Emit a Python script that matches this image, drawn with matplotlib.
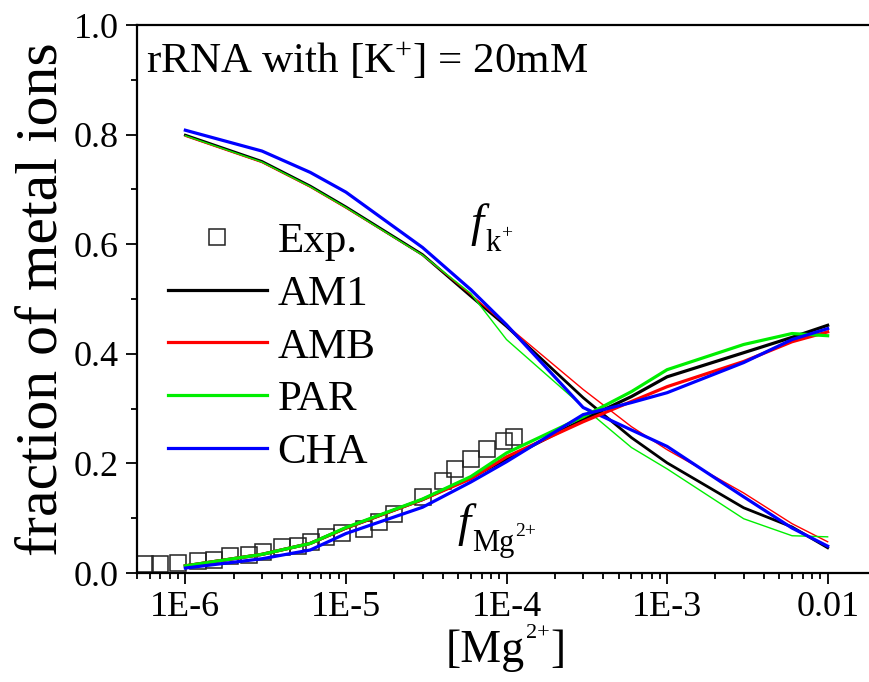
import numpy as np
import matplotlib
matplotlib.use("Agg")
import matplotlib.pyplot as plt
from matplotlib.lines import Line2D
from matplotlib.ticker import FixedLocator, LogLocator, NullFormatter, MultipleLocator

plt.rcParams['font.family'] = ['Liberation Serif', 'DejaVu Serif']
plt.rcParams['mathtext.fontset'] = 'custom'
plt.rcParams['mathtext.rm'] = 'Liberation Serif'
plt.rcParams['mathtext.it'] = 'Liberation Serif:italic'
plt.rcParams['mathtext.bf'] = 'Liberation Serif:bold'

# ---- data ----
mg_conc = [1e-6, 3e-6, 6e-6, 1e-5, 3e-5, 6e-5, 1e-4, 3e-4, 6e-4, 1e-3, 3e-3, 6e-3, 1e-2]

am1_k = [0.799, 0.751, 0.706, 0.668, 0.581, 0.505, 0.450, 0.320, 0.247, 0.201, 0.119, 0.084, 0.046]
amb_k = [0.797, 0.749, 0.704, 0.666, 0.580, 0.508, 0.452, 0.335, 0.267, 0.225, 0.146, 0.090, 0.057]
par_k = [0.798, 0.750, 0.705, 0.667, 0.580, 0.510, 0.426, 0.303, 0.229, 0.190, 0.099, 0.068, 0.066]
cha_k = [0.808, 0.770, 0.731, 0.695, 0.594, 0.517, 0.453, 0.302, 0.261, 0.231, 0.139, 0.082, 0.049]

am1_mg = [0.013, 0.034, 0.054, 0.082, 0.134, 0.174, 0.208, 0.280, 0.322, 0.358, 0.402, 0.430, 0.452]
amb_mg = [0.013, 0.034, 0.054, 0.082, 0.134, 0.172, 0.212, 0.276, 0.313, 0.340, 0.386, 0.422, 0.440]
par_mg = [0.013, 0.034, 0.054, 0.083, 0.135, 0.176, 0.219, 0.285, 0.331, 0.371, 0.417, 0.437, 0.433]
cha_mg = [0.009, 0.026, 0.042, 0.072, 0.120, 0.166, 0.203, 0.289, 0.311, 0.329, 0.384, 0.426, 0.446]

exp_x = [5.6e-7, 7.0e-7, 9.0e-7, 1.2e-6, 1.5e-6, 1.9e-6, 2.5e-6, 3.05e-6, 4.0e-6, 5.0e-6,
         6.1e-6, 7.5e-6, 9.5e-6, 1.3e-5, 1.6e-5, 2.0e-5, 3.0e-5, 4.0e-5, 4.8e-5, 6.0e-5,
         7.6e-5, 9.7e-5, 1.11e-4]
exp_y = [0.016, 0.016, 0.018, 0.021, 0.024, 0.031, 0.033, 0.039, 0.047, 0.049,
         0.056, 0.065, 0.073, 0.080, 0.093, 0.108, 0.138, 0.168, 0.190, 0.208,
         0.227, 0.241, 0.249]

xtick_vals = [1e-6, 1e-5, 1e-4, 1e-3, 1e-2]
xtick_labels = ['1E-6', '1E-5', '1E-4', '1E-3', '0.01']
ytick_vals = [0.0, 0.2, 0.4, 0.6, 0.8, 1.0]
ytick_labels = ['0.0', '0.2', '0.4', '0.6', '0.8', '1.0']

# ---- figure ----
W, H = 869, 682
fig = plt.figure(figsize=(W / 100, H / 100), dpi=100)
ax = fig.add_axes([137 / W, 1 - 573 / H, (876 - 137) / W, (573 - 25) / H])

C_BLACK = 'black'
C_RED = '#ff0000'
C_GREEN = '#00ee00'
C_BLUE = '#0000ff'

thick = 2.3
thin = 1.0

ax.plot(exp_x, exp_y, linestyle='none', marker='s', markersize=11.5,
        markerfacecolor='none', markeredgecolor='#222222', markeredgewidth=1.1, zorder=1)

ax.plot(mg_conc, am1_k, color=C_BLACK, lw=2.0, zorder=3)
ax.plot(mg_conc, amb_k, color=C_RED, lw=thin, zorder=3)
ax.plot(mg_conc, par_k, color=C_GREEN, lw=thin, zorder=3)
ax.plot(mg_conc, cha_k, color=C_BLUE, lw=thick, zorder=3)

ax.plot(mg_conc, am1_mg, color=C_BLACK, lw=thick, zorder=3)
ax.plot(mg_conc, amb_mg, color=C_RED, lw=thick, zorder=3)
ax.plot(mg_conc, par_mg, color=C_GREEN, lw=thick, zorder=3)
ax.plot(mg_conc, cha_mg, color=C_BLUE, lw=thick, zorder=3)

ax.set_xscale('log')
ax.set_xlim(5e-7, 2e-2)
ax.set_ylim(0, 1.0)

ax.xaxis.set_major_locator(FixedLocator(xtick_vals))
ax.set_xticklabels(xtick_labels)
ax.xaxis.set_minor_locator(LogLocator(base=10, subs=np.arange(2, 10), numticks=20))
ax.xaxis.set_minor_formatter(NullFormatter())
ax.yaxis.set_major_locator(FixedLocator(ytick_vals))
ax.set_yticklabels(ytick_labels)
ax.yaxis.set_minor_locator(MultipleLocator(0.1))

ax.tick_params(which='major', direction='out', length=8, width=1.3, labelsize=26, pad=5)
ax.tick_params(which='minor', direction='out', length=4.5, width=1.3)
ax.tick_params(axis='x', which='both', top=False)
ax.tick_params(axis='y', which='both', right=False)

for s in ['left', 'bottom', 'top']:
    ax.spines[s].set_linewidth(1.6)
ax.spines['right'].set_visible(False)

ax.set_ylabel('fraction of metal ions', fontsize=43, labelpad=3)

ax.text(0.012, 0.932, r'rRNA with [K$^{+}$] = 20mM', transform=ax.transAxes,
        fontsize=31, ha='left', va='center')

handles = [
    Line2D([], [], linestyle='none', marker='s', markersize=11.5, markerfacecolor='none',
           markeredgecolor='#222222', markeredgewidth=1.1),
    Line2D([], [], color=C_BLACK, lw=thick),
    Line2D([], [], color=C_RED, lw=thick),
    Line2D([], [], color=C_GREEN, lw=thick),
    Line2D([], [], color=C_BLUE, lw=thick),
]
labels = ['Exp.', 'AM1', 'AMB', 'PAR', 'CHA']
leg = ax.legend(handles, labels, loc='upper left', bbox_to_anchor=(0.03, 0.657),
                frameon=False, fontsize=31, handlelength=2.3, handletextpad=0.25,
                labelspacing=0.32, borderaxespad=0, borderpad=0.2, numpoints=1)

# ---- composite labels placed piece by piece (pixel coords from top-left) ----
fig.canvas.draw()
renderer = fig.canvas.get_renderer()


def put(x_px, y_px, s, size, style='normal', va='baseline'):
    t = fig.text(x_px / W, 1 - y_px / H, s, fontsize=size, fontstyle=style,
                 ha='left', va=va)
    bb = t.get_window_extent(renderer=renderer)
    return bb.x1  # right edge in pixels


# x-axis label: [Mg^2+]
xr = put(446, 662, '[Mg', 33)
xr = put(xr + 1, 638, '2+', 16)
put(xr + 1, 662, ']', 33)

# f_{k+}
xr = put(470, 236, 'f', 34, style='italic')
xr = put(xr + 2, 251, 'k', 22)
put(xr + 1, 238, '+', 14)

# f_{Mg2+}
xr = put(457, 536, 'f', 34, style='italic')
xr = put(xr + 2, 551, 'Mg', 22)
put(xr + 1, 536, '2+', 14)

fig.savefig('out.png', dpi=100)
